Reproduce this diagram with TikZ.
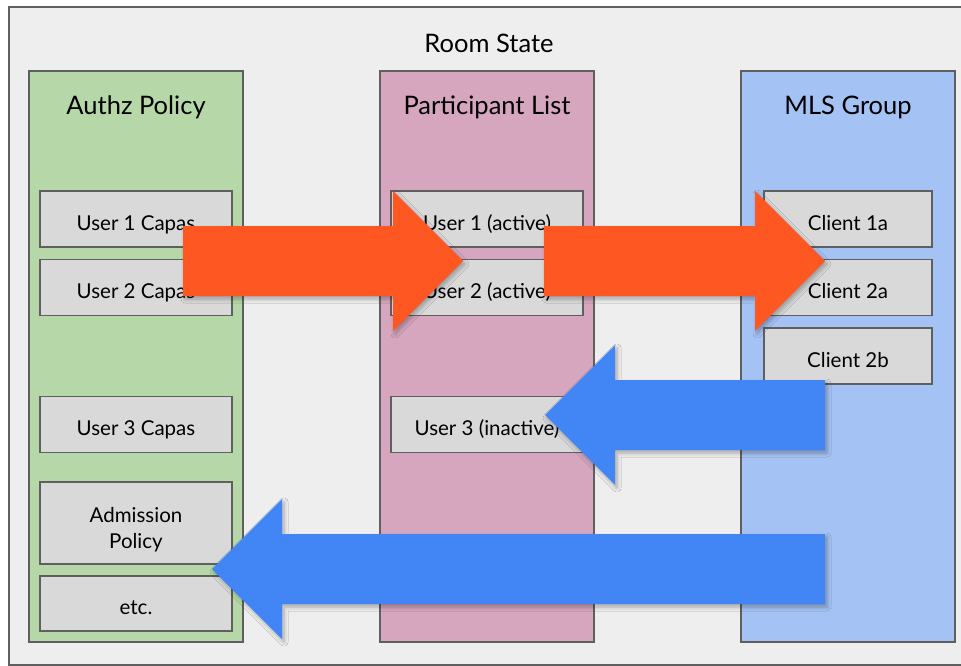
\documentclass[tikz,border=0pt]{standalone}
\usepackage{fontspec}
\setmainfont{Lato}
\usetikzlibrary{calc,shadows.blur}
\definecolor{bgc}{HTML}{EEEEEE}
\definecolor{greencol}{HTML}{B6D7A8}
\definecolor{pinkcol}{HTML}{D5A6BD}
\definecolor{bluecol}{HTML}{A4C2F4}
\definecolor{boxc}{HTML}{D9D9D9}
\definecolor{linec}{HTML}{5F5F5F}
\definecolor{orangearr}{HTML}{FF5722}
\definecolor{bluearr}{HTML}{4285F4}
\tikzset{
  col/.style={draw=linec, line width=1.4pt, minimum width=214pt, minimum height=571pt, inner sep=0pt},
  coltitle/.style={font=\fontsize{25.5}{30}\selectfont, text=black, inner sep=0pt, anchor=base},
  boxbase/.style={draw=linec, line width=1.4pt, fill=boxc, minimum width=192pt, minimum height=56pt, inner sep=0pt, align=center, font=\fontsize{20.5}{26}\selectfont, text=black},
  itembox/.style={boxbase, text height=24pt, text depth=2pt},
  clientbox/.style={itembox, minimum width=168pt},
  blockarr/.style={blur shadow={shadow xshift=2pt, shadow yshift=-3pt, shadow blur radius=4pt, shadow blur steps=6, shadow opacity=30}},
}
\newcommand\blockarrow[4]{% style, tail, tip, signed head length
  \fill[#1] ($(#2)+(0,-35)$) -- ($(#3)+({-(#4)},-35)$) -- ($(#3)+({-(#4)},-70)$) -- (#3)
    -- ($(#3)+({-(#4)},70)$) -- ($(#3)+({-(#4)},35)$) -- ($(#2)+(0,35)$) -- cycle;}
\begin{document}
\begin{tikzpicture}[x=1pt,y=-1pt]
\useasboundingbox (0,0) rectangle (961,666);
\clip (0,0) rectangle (961,666);
\fill[white] (0,0) rectangle (961,666);
\draw[draw=linec, line width=1.4pt, fill=bgc] (9,7) rectangle (970,665);
\node[coltitle] (room) at (489,53) {Room State};

% columns
\node[col, fill=greencol] (authz) at (136,356.5) {};
\node[col, fill=pinkcol] (plist) at (487,356.5) {};
\node[col, fill=bluecol] (mls) at (848,356.5) {};
\node[coltitle] (authzT) at (136,115) {Authz Policy};
\node[coltitle] (plistT) at (487,115) {Participant List};
\node[coltitle] (mlsT) at (848,115) {MLS Group};

% authz boxes
\node[itembox] (u1c) at (136,219) {User 1 Capas};
\node[itembox] (u2c) at (136,287.5) {User 2 Capas};
\node[itembox] (u3c) at (136,424.5) {User 3 Capas};
\node[boxbase, minimum height=82pt] (adm) at (136,523) {\rule{0pt}{28pt}Admission\\Policy};
\node[itembox, minimum height=55pt] (etc) at (136,603.5) {etc.};

% participant boxes
\node[itembox] (u1a) at (487,219) {User 1 (active)};
\node[itembox] (u2a) at (487,287.5) {User 2 (active)};
\node[itembox] (u3i) at (487,424.5) {User 3 (inactive)};

% client boxes
\node[clientbox] (c1a) at (848,219) {Client 1a};
\node[clientbox] (c2a) at (848,287.5) {Client 2a};
\node[clientbox] (c2b) at (848,356) {Client 2b};

% arrow anchor coordinates
\coordinate (o1t) at (183,261);
\coordinate (o1h) at (463,261);
\coordinate (o2t) at (544,261);
\coordinate (o2h) at (825,261);
\coordinate (b1t) at (825,415);
\coordinate (b1h) at (545,415);
\coordinate (b2t) at (825,569);
\coordinate (b2h) at (212,569);

\blockarrow{blockarr, fill=orangearr}{o1t}{o1h}{70}
\blockarrow{blockarr, fill=orangearr}{o2t}{o2h}{70}
\blockarrow{blockarr, fill=bluearr}{b1t}{b1h}{-70}
\blockarrow{blockarr, fill=bluearr}{b2t}{b2h}{-70}
\end{tikzpicture}
\end{document}
